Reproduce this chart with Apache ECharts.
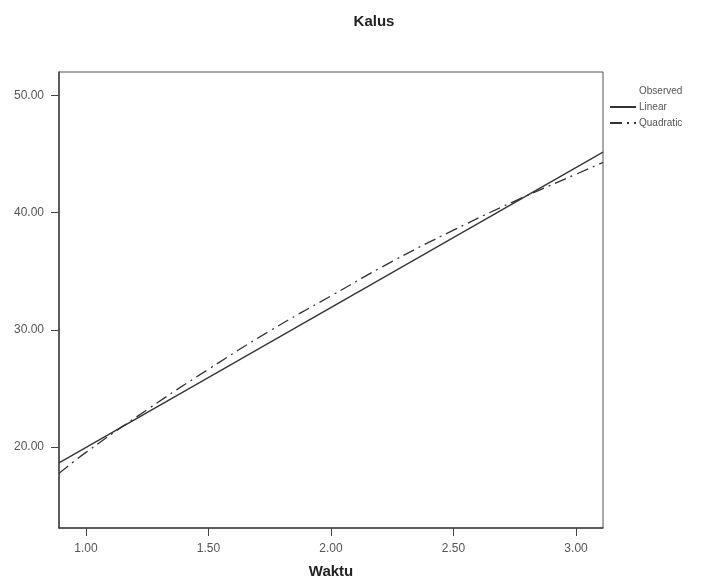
<!DOCTYPE html>
<html>
<head>
<meta charset="utf-8">
<script src="https://cdn.jsdelivr.net/npm/echarts@6/dist/echarts.min.js"></script>
<style>html,body{margin:0;padding:0;background:#fff}#c{width:714px;height:583px}</style>
</head>
<body>
<div id="c"></div>
<script>
const titleText = 'Kalus';
const xName = 'Waktu';
const xTicks = [1.0, 1.5, 2.0, 2.5, 3.0];
const yTicks = [20, 30, 40, 50];
const xRange = [0.89, 3.11];
const yRange = [13.1, 52.0];
const observedX = [];
const observedY = [];
const linearX = [0.89, 3.11];
const linearY = [18.66, 45.17];
const quadX = [0.89, 1.0, 1.25, 1.5, 1.75, 2.0, 2.25, 2.5, 2.75, 3.0, 3.11];
const quadY = [17.76, 19.55, 23.2, 26.64, 29.91, 32.9, 35.84, 38.51, 40.99, 43.28, 44.29];

const zip = (a, b) => a.map((v, i) => [v, b[i]]);
const font = 'Liberation Sans, Arial, sans-serif';
const chart = echarts.init(document.getElementById('c'));
chart.setOption({
  animation: false,
  backgroundColor: '#fff',
  title: {
    text: titleText, left: 369, top: 9, textAlign: 'center',
    textStyle: {fontFamily: font, fontSize: 15, fontWeight: 'bold', color: '#222'}
  },
  legend: {
    orient: 'vertical', left: 604, top: 81, itemWidth: 26, itemHeight: 10, itemGap: 6,
    itemStyle: {opacity: 0},
    textStyle: {fontFamily: font, fontSize: 10, color: '#555', padding: [0, 0, 0, -2]},
    data: [{name: 'Observed', icon: 'none'}, {name: 'Linear'}, {name: 'Quadratic'}]
  },
  grid: {left: 59, right: 111, top: 72, bottom: 55, outerBoundsMode: 'none', containLabel: false,
         show: true, borderColor: '#555', borderWidth: 1},
  xAxis: {
    type: 'value', min: xRange[0], max: xRange[1],
    name: xName, nameLocation: 'middle', nameGap: 36,
    nameTextStyle: {fontFamily: font, fontSize: 15, fontWeight: 'bold', color: '#222'},
    axisLine: {show: true, lineStyle: {color: '#444', width: 1.5}},
    axisTick: {show: true, length: 8, customValues: xTicks, lineStyle: {color: '#444'}},
    axisLabel: {customValues: xTicks, formatter: v => v.toFixed(2), fontFamily: font, fontSize: 12, color: '#555', margin: 15},
    splitLine: {show: false}
  },
  yAxis: {
    type: 'value', min: yRange[0], max: yRange[1],
    axisLine: {show: true, lineStyle: {color: '#444', width: 1.5}},
    axisTick: {show: true, length: 8, customValues: yTicks, lineStyle: {color: '#444'}},
    axisLabel: {customValues: yTicks, formatter: v => v.toFixed(2), fontFamily: font, fontSize: 12, color: '#555', margin: 15},
    splitLine: {show: false}
  },
  series: [
    {name: 'Observed', type: 'scatter', data: zip(observedX, observedY), symbolSize: 4, itemStyle: {color: '#333'}},
    {name: 'Linear', type: 'line', data: zip(linearX, linearY), showSymbol: false, symbol: 'none',
     lineStyle: {color: '#333', width: 1.3}, itemStyle: {color: '#333'}},
    {name: 'Quadratic', type: 'line', data: zip(quadX, quadY), smooth: true, showSymbol: false, symbol: 'none',
     lineStyle: {color: '#333', width: 1.3, type: [12, 5, 2, 5]}, itemStyle: {color: '#333'}}
  ]
});
</script>
</body>
</html>
